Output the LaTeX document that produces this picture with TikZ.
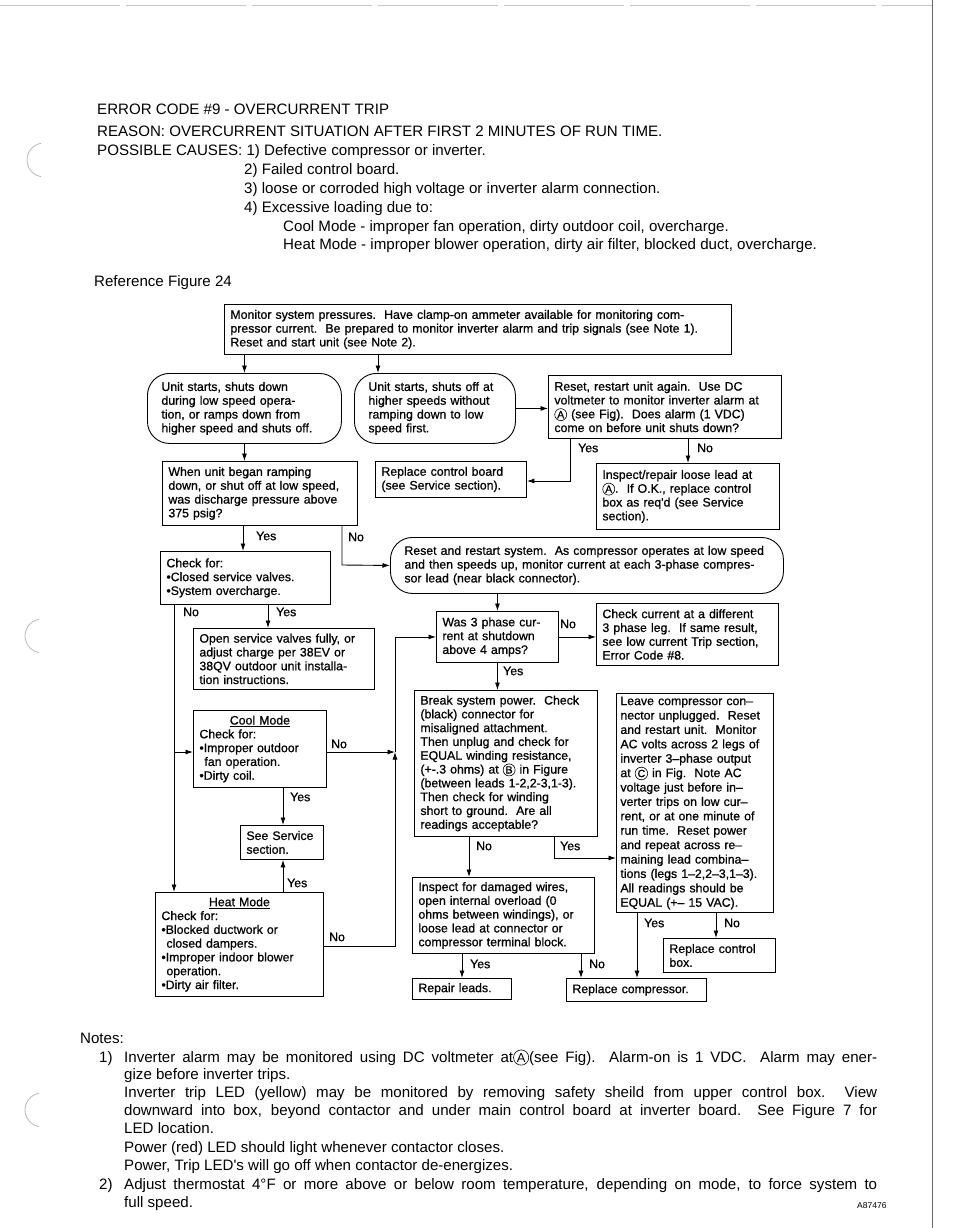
\documentclass[tikz,border=0pt]{standalone}
\usepackage{fontspec}
\setmainfont{Liberation Sans}
\newfontfamily\headfont{Liberation Sans}
\newfontfamily\boxfam[FakeBold=0.8]{Liberation Sans}
\usetikzlibrary{arrows.meta}

\newcommand{\boxfont}{\boxfam\fontsize{12.3}{13.8}\selectfont}
\newcommand{\headsize}{\headfont\fontsize{15.1}{19}\selectfont}
\newcommand{\circlett}[3][10.5]{\tikz[baseline=(ch.base)] \node[circle, draw, text width=, minimum width=0pt, minimum height=0pt, rounded corners=0pt, align=center, line width=0.6pt, inner sep=#2, font=\fontsize{#1}{#1}\selectfont] (ch) {#3};}
\newcommand{\modehead}[1]{\makebox[\hsize][c]{\underline{#1}}}

\tikzset{
  flowbox/.style={draw, line width=0.9pt, anchor=north west, align=left, inner xsep=6pt, inner ysep=2pt, font=\boxfont},
  roundbox/.style={flowbox, rounded corners=22pt, inner xsep=14pt},
  flowline/.style={line width=0.9pt, -{Latex[length=7.5pt,width=5pt]}},
  answer/.style={anchor=west, inner sep=0pt, font=\boxfont},
  headline/.style={anchor=base west, inner sep=0pt, font=\headsize},
}

\begin{document}
\begin{tikzpicture}[x=1pt, y=-1pt]
\useasboundingbox (0,0) rectangle (954,1228);

% page edges and binder holes
\draw[gray!45, line width=0.5pt, dash pattern=on 120pt off 6pt] (0,5) -- (932,5);
\draw[gray!80!black, line width=1pt] (932,0) -- (932,1228);
\draw[gray!55, line width=0.8pt] (44,160) ++(100:17pt) arc (100:260:17pt);
\draw[gray!55, line width=0.8pt] (42,636) ++(100:17pt) arc (100:260:17pt);
\draw[gray!55, line width=0.8pt] (42,1110) ++(100:17pt) arc (100:260:17pt);

% heading
\node[headline] (title) at (97,115) {ERROR CODE \#9 - OVERCURRENT TRIP};
\node[headline] (reason) at (97,136) {REASON: OVERCURRENT SITUATION AFTER FIRST 2 MINUTES OF RUN TIME.};
\node[headline] (cause1) at (97,155) {POSSIBLE CAUSES: 1) Defective compressor or inverter.};
\node[headline] (cause2) at (244,174) {2) Failed control board.};
\node[headline] (cause3) at (244,193) {3) loose or corroded high voltage or inverter alarm connection.};
\node[headline] (cause4) at (244,212) {4) Excessive loading due to:};
\node[headline] (coolcause) at (283,231) {Cool Mode - improper fan operation, dirty outdoor coil, overcharge.};
\node[headline] (heatcause) at (283,249) {Heat Mode - improper blower operation, dirty air filter, blocked duct, overcharge.};
\node[headline] (figref) at (94,286) {Reference Figure 24};

% boxes
\node[flowbox, text width=495pt, minimum height=50pt] (monitor) at (224,304)
  {Monitor system pressures.\ \ Have clamp-on ammeter available for monitoring com-\\
   pressor current.\ \ Be prepared to monitor inverter alarm and trip signals (see Note 1).\\
   Reset and start unit (see Note 2).};
\node[roundbox, text width=166pt, minimum height=70pt] (lowstop) at (147,373)
  {Unit starts, shuts down\\ during low speed opera-\\ tion, or ramps down from\\ higher speed and shuts off.};
\node[roundbox, text width=133pt, minimum height=70pt] (highstop) at (354,373)
  {Unit starts, shuts off at\\ higher speeds without\\ ramping down to low\\ speed first.};
\node[flowbox, text width=221pt, minimum height=63pt] (alarmchk) at (548,375)
  {Reset, restart unit again.\ \ Use DC\\ voltmeter to monitor inverter alarm at\\
   \circlett{0.7pt}{A} (see Fig).\ \ Does alarm (1 VDC)\\ come on before unit shuts down?};
\node[flowbox, text width=139pt, minimum height=36pt] (ctrlboard) at (375,461)
  {Replace control board\\ (see Service section).};
\node[flowbox, text width=171pt, minimum height=66pt] (looselead) at (596,463)
  {Inspect/repair loose lead at\\ \circlett{0.7pt}{A}.\ \ If O.K., replace control\\ box as req'd (see Service\\ section).};
\node[flowbox, text width=183pt, minimum height=64pt] (ramping) at (162,461)
  {When unit began ramping\\ down, or shut off at low speed,\\ was discharge pressure above\\ 375 psig?};
\node[flowbox, text width=158pt, minimum height=53pt] (valvechk) at (160,551)
  {Check for:\\ •Closed service valves.\\ •System overcharge.};
\node[roundbox, text width=365pt, minimum height=56pt] (restart) at (390,537)
  {Reset and restart system.\ \ As compressor operates at low speed\\
   and then speeds up, monitor current at each 3-phase compres-\\ sor lead (near black connector).};
\node[flowbox, text width=110pt, minimum height=51pt] (phasechk) at (436,611)
  {Was 3 phase cur-\\ rent at shutdown\\ above 4 amps?};
\node[flowbox, text width=170pt, minimum height=62pt] (otherleg) at (596,603)
  {Check current at a different\\ 3 phase leg.\ \ If same result,\\ see low current Trip section,\\ Error Code \#8.};
\node[flowbox, text width=169pt, minimum height=61pt] (openvalves) at (193,628)
  {Open service valves fully, or\\ adjust charge per 38EV or\\ 38QV outdoor unit installa-\\ tion instructions.};
\node[flowbox, text width=121pt, minimum height=77pt] (coolmode) at (193,710)
  {\modehead{Cool Mode}\\ Check for:\\ •Improper outdoor\\ \hspace*{5pt}fan operation.\\ •Dirty coil.};
\node[flowbox, text width=171pt, minimum height=146pt] (breakpower) at (414,690)
  {Break system power.\ \ Check\\ (black) connector for\\ misaligned attachment.\\ Then unplug and check for\\
   EQUAL winding resistance,\\ (+-.3 ohms) at \circlett{0.7pt}{B} in Figure\\ (between leads 1-2,2-3,1-3).\\
   Then check for winding\\ short to ground.\ \ Are all\\ readings acceptable?};
\node[flowbox, inner xsep=4pt, text width=149pt, minimum height=219pt, font=\boxfam\fontsize{12.3}{14.4}\selectfont] (leavecomp) at (616,693)
  {Leave compressor con–\\ nector unplugged.\ \ Reset\\ and restart unit.\ \ Monitor\\ AC volts across 2 legs of\\
   inverter 3–phase output\\ at \circlett{0.7pt}{C} in Fig.\ \ Note AC\\ voltage just before in–\\ verter trips on low cur–\\
   rent, or at one minute of\\ run time.\ \ Reset power\\ and repeat across re–\\ maining lead combina–\\
   tions (legs 1–2,2–3,1–3).\\ All readings should be\\ EQUAL (+– 15 VAC).};
\node[flowbox, text width=71pt, minimum height=34pt] (service) at (240,825)
  {See Service\\ section.};
\node[flowbox, text width=170pt, minimum height=76pt] (inspectwires) at (412,877)
  {Inspect for damaged wires,\\ open internal overload (0\\ ohms between windings), or\\
   loose lead at connector or\\ compressor terminal block.};
\node[flowbox, text width=156pt, minimum height=104pt] (heatmode) at (155,892)
  {\modehead{Heat Mode}\\ Check for:\\ •Blocked ductwork or\\ \hspace*{5pt}closed dampers.\\
   •Improper indoor blower\\ \hspace*{5pt}operation.\\ •Dirty air filter.};
\node[flowbox, text width=87pt, minimum height=21pt] (repairleads) at (412,978) {Repair leads.};
\node[flowbox, text width=128pt, minimum height=23pt] (replcomp) at (566,978) {Replace compressor.};
\node[flowbox, text width=100pt, minimum height=34pt] (replbox) at (663,938) {Replace control\\ box.};

% bend and junction points
\coordinate (highin) at (378,373);
\coordinate (alarmyes) at (570,481);
\coordinate (alarmno) at (688,463);
\coordinate (rampyes) at (243,551);
\coordinate (rampno) at (342,565);
\coordinate (breakno) at (469,877);
\coordinate (breakyes) at (554,858);
\coordinate (inspyes) at (462,978);
\coordinate (inspno) at (581,978);
\coordinate (leaveyes) at (637,978);
\coordinate (leaveno) at (716,938);
\coordinate (valveno) at (174,892);
\coordinate (coolbranch) at (174,752);
\coordinate (valveyes) at (268,628);
\coordinate (merge) at (395,752);
\coordinate (coolyes) at (283,825);
\coordinate (heatyes) at (283,892);
\coordinate (heatno) at (395,946);

% connectors
\draw[flowline] (monitor.south -| lowstop.north) -- (lowstop.north);
\draw[flowline] (monitor.south -| highin) -- (highin);
\draw[flowline] (highstop.east) -- (highstop.east -| alarmchk.west);
\draw[flowline] (alarmchk.south -| alarmyes) -- (alarmyes) -- (alarmyes -| ctrlboard.east);
\draw[flowline] (alarmchk.south -| alarmno) -- (looselead.north -| alarmno);
\draw[flowline] (lowstop.south) -- (lowstop.south |- ramping.north);
\draw[flowline] (ramping.south -| rampyes) -- (rampyes);
\draw[flowline] (ramping.south -| rampno) -- (rampno) -- (restart.west);
\draw[flowline] (restart.south -| phasechk.north) -- (phasechk.north);
\draw[flowline] (phasechk.east) -- (phasechk.east -| otherleg.west);
\draw[flowline] (phasechk.south) -- (phasechk.south |- breakpower.north);
\draw[flowline] (breakpower.south -| breakno) -- (breakno);
\draw[flowline] (breakpower.south -| breakyes) -- (breakyes) -- (breakyes -| leavecomp.west);
\draw[flowline] (inspectwires.south -| inspyes) -- (inspyes);
\draw[flowline] (inspectwires.south -| inspno) -- (inspno);
\draw[flowline] (leavecomp.south -| leaveyes) -- (leaveyes);
\draw[flowline] (leavecomp.south -| leaveno) -- (leaveno);
\draw[flowline] (valvechk.south -| valveno) -- (valveno);
\draw[flowline] (coolbranch) -- (coolbranch -| coolmode.west);
\draw[flowline] (valvechk.south -| valveyes) -- (valveyes);
\draw[flowline] (coolbranch -| coolmode.east) -- (merge);
\draw[flowline] (coolmode.south -| coolyes) -- (coolyes);
\draw[flowline] (heatyes) -- (heatyes |- service.south);
\draw[flowline] (heatno -| heatmode.east) -- (heatno) -- (merge);
\draw[flowline] (merge) -- (merge |- phasechk.west) -- (phasechk.west);

% answers
\node[answer] (ansalarmyes) at (578,448) {Yes};
\node[answer] (ansalarmno) at (697,448) {No};
\node[answer] (ansrampyes) at (256,536) {Yes};
\node[answer] (ansrampno) at (348,537) {No};
\node[answer] (ansphaseno) at (560,624) {No};
\node[answer] (ansphaseyes) at (503,671) {Yes};
\node[answer] (ansbreakno) at (476,846) {No};
\node[answer] (ansbreakyes) at (560,846) {Yes};
\node[answer] (ansinspyes) at (470,964) {Yes};
\node[answer] (ansinspno) at (589,964) {No};
\node[answer] (ansleaveyes) at (644,923) {Yes};
\node[answer] (ansleaveno) at (724,923) {No};
\node[answer] (ansvalveno) at (183,612) {No};
\node[answer] (ansvalveyes) at (276,612) {Yes};
\node[answer] (anscoolno) at (331,744) {No};
\node[answer] (anscoolyes) at (290,797) {Yes};
\node[answer] (ansheatyes) at (287,883) {Yes};
\node[answer] (ansheatno) at (329,937) {No};

% notes
\node[headline] (notes) at (80,1043) {Notes:};
\node[headline] (noteone) at (99,1062) {1)};
\node[headline] (noteonea) at (124,1062) {\makebox[753pt][s]{Inverter alarm may be monitored using DC voltmeter at\circlett[13]{1pt}{A}(see Fig).\ \ Alarm-on is 1 VDC.\ \ Alarm may ener-}};
\node[headline] (noteoneb) at (124,1079) {gize before inverter trips.};
\node[headline] (noteonec) at (124,1097) {\makebox[753pt][s]{Inverter trip LED (yellow) may be monitored by removing safety sheild from upper control box.\ \ View}};
\node[headline] (noteoned) at (124,1115) {\makebox[753pt][s]{downward into box, beyond contactor and under main control board at inverter board.\ \ See Figure 7 for}};
\node[headline] (noteonee) at (124,1133) {LED location.};
\node[headline] (noteonef) at (124,1152) {Power (red) LED should light whenever contactor closes.};
\node[headline] (noteoneg) at (124,1170) {Power, Trip LED's will go off when contactor de-energizes.};
\node[headline] (notetwo) at (99,1189) {2)};
\node[headline] (notetwoa) at (124,1189) {\makebox[753pt][s]{Adjust thermostat 4°F or more above or below room temperature, depending on mode, to force system to}};
\node[headline] (notetwob) at (124,1207) {full speed.};
\node[anchor=base west, inner sep=0pt, font=\fontsize{8.5}{9}\selectfont] (figcode) at (857,1208) {A87476};
\end{tikzpicture}
\end{document}
